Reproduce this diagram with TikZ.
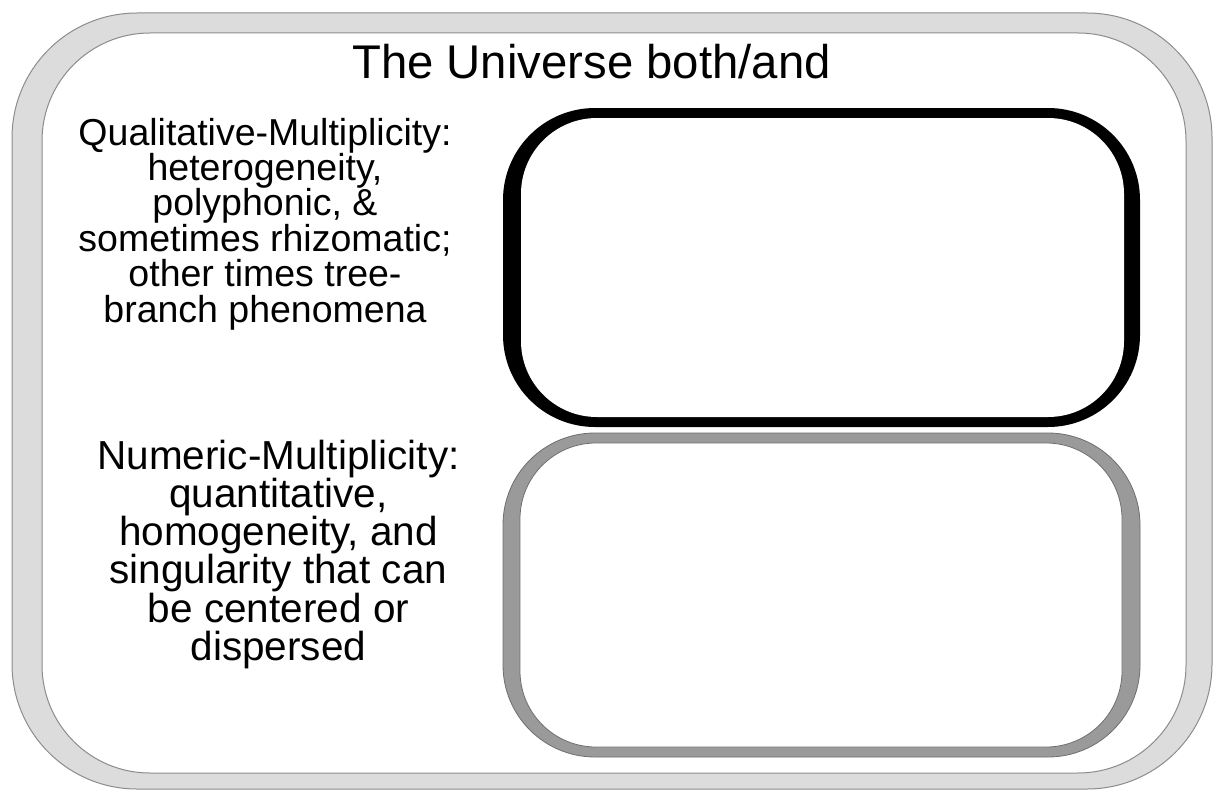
\documentclass[tikz,border=0pt]{standalone}
\usepackage{fontspec}
\setmainfont{Liberation Sans}
\definecolor{bandgray}{HTML}{DCDCDC}
\definecolor{bandline}{HTML}{8C8C8C}
\definecolor{boxgray}{HTML}{9A9A9A}
\definecolor{boxline}{HTML}{6E6E6E}
\tikzset{
  lbl/.style={inner sep=0pt, align=center, anchor=base, text=black},
}
\begin{document}
\begin{tikzpicture}[x=1pt,y=-1pt]
\useasboundingbox (0,0) rectangle (1220,792);
% outer frame
\filldraw[fill=bandgray, draw=bandline, line width=1pt, rounded corners=125pt] (12,13) rectangle (1212,789);
\filldraw[fill=white, draw=bandline, line width=1pt, rounded corners=108pt] (42,33) rectangle (1186,773);
% black box
\fill[black, rounded corners=92pt] (503,108) rectangle (1140,427);
\fill[white, rounded corners=76pt] (521,118) rectangle (1124,417);
% gray box
\filldraw[fill=boxgray, draw=boxline, line width=0.8pt, rounded corners=92pt] (503,433) rectangle (1140,757);
\filldraw[fill=white, draw=boxline, line width=0.8pt, rounded corners=76pt] (520,443) rectangle (1122,747);
% texts
\node[lbl, font=\fontsize{47.3}{52}\selectfont] (title) at (591.5,78) {The Universe both/and};
\node[lbl, font=\fontsize{37.5}{35.4}\selectfont] (qual) at (265,322) {Qualitative-Multiplicity:\\heterogeneity,\\polyphonic, \&\\sometimes rhizomatic;\\other times tree-\\branch phenomena};
\node[lbl, font=\fontsize{40.5}{38.3}\selectfont] (num) at (278.5,660.5) {Numeric-Multiplicity:\\quantitative,\\homogeneity, and\\singularity that can\\be centered or\\dispersed};
\end{tikzpicture}
\end{document}
